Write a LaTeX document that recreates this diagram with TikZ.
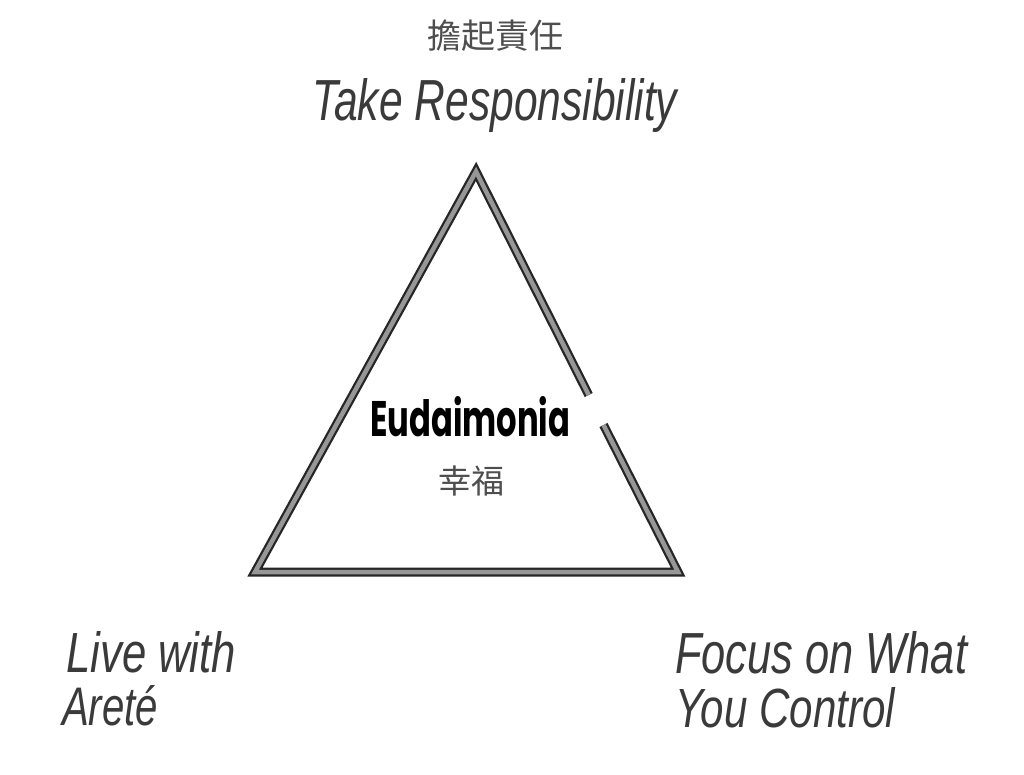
\documentclass[tikz,border=0pt]{standalone}
\usepackage{fontspec}
\usepackage{graphicx}
\setmainfont{Liberation Sans}
\newfontfamily\cjk{Noto Sans CJK TC}
\newfontfamily\hand{Liberation Sans}
\newfontfamily\deco{Poppins}
\definecolor{ink}{HTML}{3A3A3A}
\definecolor{cjkgray}{HTML}{4E4E4E}
\definecolor{bandout}{HTML}{262626}
\definecolor{bandin}{HTML}{979797}
\tikzset{
  hand/.style={anchor=base west, inner sep=0pt, text=ink, font=\hand\itshape},
  cjklabel/.style={inner sep=0pt, text=cjkgray, font=\cjk\fontsize{34}{34}\selectfont},
  bandouter/.style={draw=bandout, line width=9pt, line join=miter, line cap=butt},
  bandinner/.style={draw=bandin, line width=4.5pt, line join=miter, line cap=butt},
  title/.style={anchor=base west, inner sep=0pt, text=black, font=\deco\bfseries}
}
\begin{document}
\begin{tikzpicture}[x=1pt,y=-1pt]
\useasboundingbox (0,0) rectangle (1024,774);
\fill[white] (0,0) rectangle (1024,774);

% triangle with gap on right side
\coordinate (gapLow) at (603.5,425);
\coordinate (br) at (678,572);
\coordinate (bl) at (255,572);
\coordinate (apex) at (476,171.5);
\coordinate (gapHigh) at (588.7,395);
\draw[bandouter] (gapLow) -- (br) -- (bl) -- (apex) -- (gapHigh);
\draw[bandinner] (gapLow) -- (br) -- (bl) -- (apex) -- (gapHigh);

% top labels
\node[cjklabel] (topcn) at (495.5,36) {擔起責任};
\node[hand] (topen) at (312,120) {\resizebox{365pt}{42pt}{Take Responsibility}};

% centre
\node[title] (eud) at (370,436) {\resizebox{200pt}{40pt}{Eudaimonia}};
\node[cjklabel, font=\cjk\fontsize{33}{33}\selectfont] (eudcn) at (471.5,481) {幸福};

% bottom left
\node[hand] (left1) at (66,672) {\resizebox{170pt}{41pt}{Live with}};
\node[hand] (left2) at (62,725) {\resizebox{96pt}{40pt}{Areté}};

% bottom right
\node[hand] (right1) at (675,673) {\resizebox{292pt}{42pt}{Focus on What}};
\node[hand] (right2) at (675,727) {\resizebox{220pt}{40pt}{You Control}};
\end{tikzpicture}
\end{document}
